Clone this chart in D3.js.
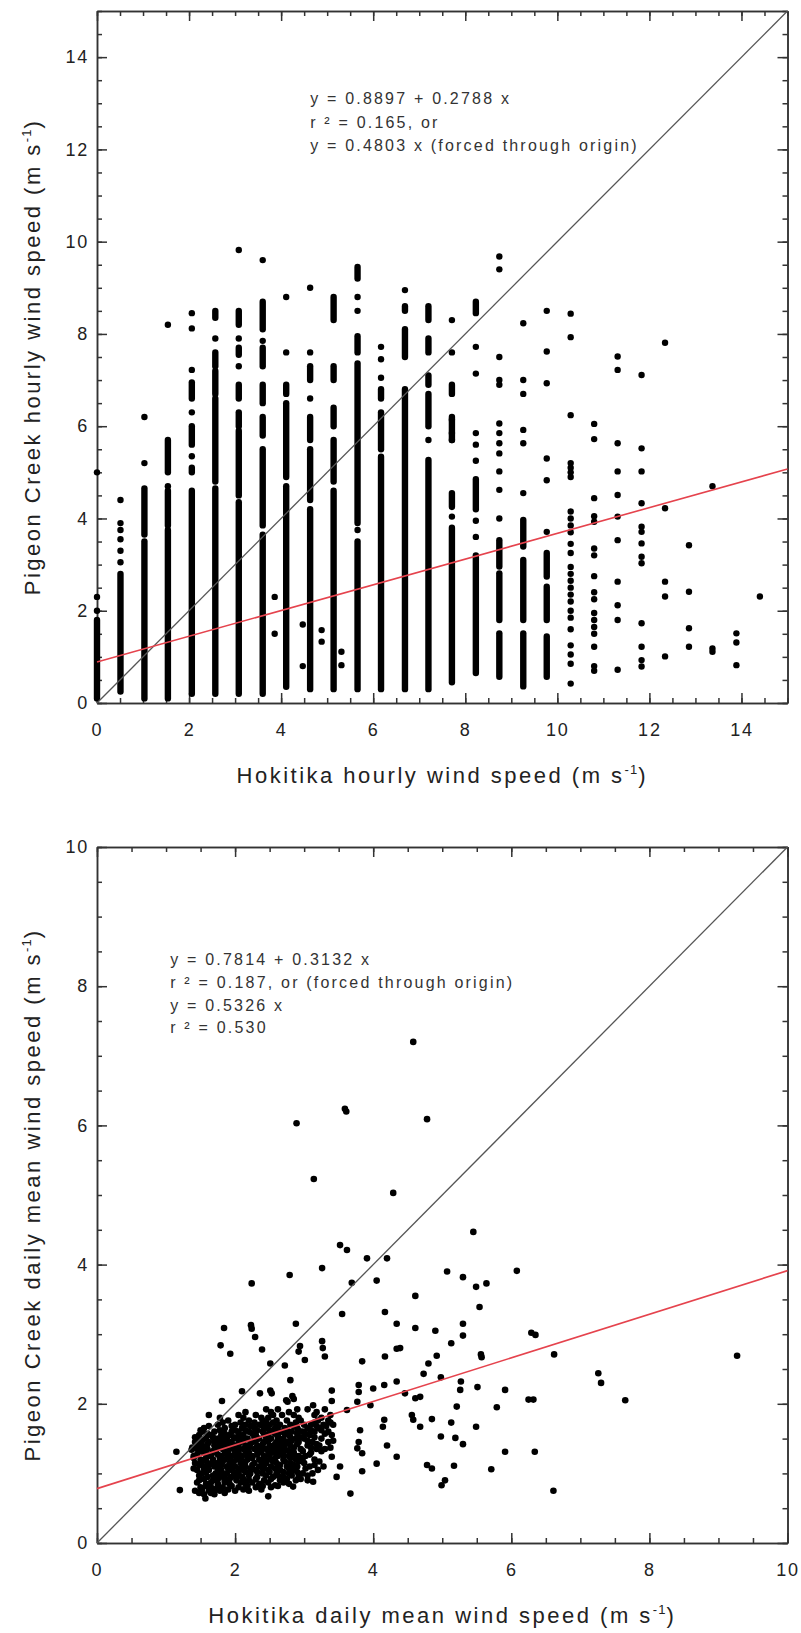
<!DOCTYPE html>
<html lang="en">
<head>
<meta charset="UTF-8">
<title>Pigeon Creek vs Hokitika wind speed</title>
<script src="https://cdnjs.cloudflare.com/ajax/libs/d3/7.8.5/d3.min.js"></script>
<style>
  body { margin: 0; background: #fff; }
  svg { display: block; font-family: "Liberation Sans", Arial, sans-serif; }
  .tick text { font-size: 18px; letter-spacing: 1.8px; fill: #222; }
  .tick line, .domain { stroke: #333; stroke-width: 1.5; }
  .title { font-size: 22px; letter-spacing: 2.5px; fill: #222; }
  .note { font-size: 16px; letter-spacing: 2.2px; fill: #333; }
</style>
</head>
<body>
<div id="chart"></div>
<script>
// ---- hourly data (top panel) ----
// Hokitika values come in knot steps, so the points sit in columns
const hourlyCols = [0, 0.51, 1.03, 1.54, 2.06, 2.57, 3.08, 3.60, 4.11, 4.63, 5.14, 5.66, 6.17, 6.69,
  7.20, 7.71, 8.23, 8.74, 9.26, 9.77, 10.29, 10.80, 11.31, 11.83, 12.34, 12.86, 13.37, 13.89, 14.40];

// solid runs of overlapping dots in each column [lo, hi]
const hourlyRuns = [
  [[0.1, 1.8]],
  [[0.25, 2.8]],
  [[0.1, 3.5], [3.65, 4.65]],
  [[5.0, 5.7], [0.1, 3.75], [3.85, 4.6]],
  [[6.6, 6.95], [5.6, 6.0], [5.0, 5.1], [0.2, 4.6]],
  [[8.35, 8.5], [7.3, 7.6], [6.7, 7.2], [4.8, 6.6], [0.2, 4.65]],
  [[8.2, 8.5], [7.55, 7.7], [6.6, 6.9], [6.0, 6.3], [4.5, 5.9], [0.2, 4.35]],
  [[8.1, 8.7], [7.3, 7.7], [6.5, 6.9], [5.8, 6.2], [3.85, 5.5], [0.2, 3.65]],
  [[6.7, 6.9], [4.9, 6.5], [0.35, 4.7]],
  [[7.0, 7.3], [5.7, 6.2], [4.4, 5.5], [0.3, 4.2]],
  [[8.3, 8.8], [7.0, 7.3], [6.0, 6.4], [4.8, 5.7], [0.3, 4.6]],
  [[9.2, 9.45], [7.6, 7.95], [3.9, 7.36], [0.3, 3.5]],
  [[6.6, 6.8], [5.5, 6.3], [0.3, 5.34]],
  [[8.5, 8.6], [7.5, 8.1], [0.3, 6.8]],
  [[8.3, 8.6], [7.6, 7.9], [6.9, 7.1], [6.0, 6.7], [0.3, 5.27]],
  [[6.7, 6.9], [5.7, 6.2], [4.25, 4.55], [0.45, 3.8]],
  [[8.45, 8.7], [4.2, 4.85], [0.65, 3.2]],
  [[2.96, 3.53], [1.8, 2.81], [0.57, 1.51]],
  [[3.39, 3.97], [1.8, 3.1], [0.36, 1.51]],
  [[2.74, 3.25], [1.8, 2.52], [0.57, 1.44]],
  [], [], [], [], [], [], [], [], []
];

// separate dots in each column
const hourlyDots = [
  [5.0, 2.3, 2.0],
  [4.4, 3.9, 3.75, 3.55, 3.3, 3.05],
  [6.2, 5.2],
  [8.2, 4.7],
  [8.45, 8.12, 7.22, 6.3, 5.35],
  [7.9],
  [9.82, 7.9, 7.3],
  [9.6, 7.85],
  [8.8, 7.6],
  [9.0, 7.6, 6.6],
  [],
  [8.8, 8.5, 3.75],
  [7.72, 7.45, 7.05],
  [8.95],
  [5.7],
  [8.3, 7.6, 6.14, 5.85, 5.7, 4.04],
  [7.72, 7.14, 5.85, 5.6, 5.25, 3.95, 3.6],
  [9.68, 9.4, 7.5, 7.0, 6.9, 6.06, 5.85, 5.63, 5.41, 5.02, 4.62, 4.0],
  [8.23, 7.0, 6.7, 5.92, 5.63, 4.55],
  [8.5, 7.62, 6.93, 5.3, 4.83, 3.71],
  [8.44, 7.93, 6.24, 5.2, 5.1, 5.0, 4.9, 4.15, 4.0, 3.85, 3.7, 3.45, 3.25, 2.95, 2.8, 2.65, 2.5,
   2.35, 2.2, 2.0, 1.85, 1.6, 1.25, 1.05, 0.85, 0.42],
  [6.05, 5.72, 4.44, 4.05, 3.93, 3.35, 3.2, 2.75, 2.4, 2.25, 1.95, 1.8, 1.65, 1.5, 1.22, 0.8, 0.7],
  [7.51, 7.22, 5.63, 5.02, 4.51, 4.04, 3.53, 2.63, 2.12, 1.8, 0.72],
  [7.11, 5.52, 5.02, 4.33, 3.82, 3.71, 3.46, 3.17, 3.03, 1.73, 1.22, 0.93, 0.79],
  [7.81, 4.22, 2.63, 2.31, 1.01],
  [3.42, 2.41, 1.62, 1.22],
  [4.7, 1.18, 1.11],
  [1.51, 1.31, 0.82],
  [2.31]
];

// a few hours off the knot grid
const strayX = [3.86, 3.86, 4.47, 4.47, 4.88, 4.88, 5.31, 5.31];
const strayY = [2.3, 1.5, 1.7, 0.8, 1.58, 1.33, 1.11, 0.82];

const hourlyFit = { a: 0.8897, b: 0.2788 };
const hourlyNote = ["y = 0.8897 + 0.2788 x", "r \u00b2 = 0.165, or", "y = 0.4803 x (forced through origin)"];

// ---- daily data (bottom panel) ----
const dailyOutliers = [
  [4.58,7.2],[3.59,6.24],[3.61,6.2],[4.78,6.09],[2.89,6.03],[3.14,5.23],[4.29,5.03],[5.45,4.47],
  [3.52,4.28],[3.62,4.21],[3.91,4.09],[4.20,4.09],[3.26,3.95],[2.79,3.85],[5.07,3.90],[6.08,3.91],
  [5.30,3.82],[2.24,3.73],[3.69,3.74],[4.05,3.77],[5.49,3.68],[5.64,3.73],[4.61,3.55],[5.54,3.39],
  [3.55,3.29],[4.17,3.32],[4.34,3.15],[2.88,3.15],[1.84,3.09],[2.23,3.13],[2.24,3.08],[2.29,2.96],
  [1.79,2.84],[1.93,2.72],[2.39,2.78],[2.94,2.83],[2.92,2.75],[3.26,2.90],[3.27,2.80],[3.30,2.68],
  [3.01,2.63],[4.17,2.68],[3.84,2.61],[4.34,2.79],[2.51,2.58],[2.72,2.55],[2.80,2.34],[4.61,3.09],
  [4.90,3.05],[5.30,3.15],[5.30,2.98],[5.13,2.87],[6.29,3.02],[6.35,2.99],[4.39,2.80],[4.92,2.69],
  [4.80,2.58],[5.56,2.71],[5.57,2.67],[6.62,2.71],[9.27,2.69],[4.73,2.43],[4.98,2.38],[5.27,2.32],
  [5.26,2.20],[5.51,2.24],[5.91,2.20],[7.26,2.44],[7.30,2.30],[7.65,2.05],[6.25,2.06],[6.32,2.06],
  [4.46,2.15],[4.61,2.08],[4.68,2.10],[5.21,1.96],[5.79,1.95],[4.56,1.84],[4.58,1.77],[4.68,1.67],
  [4.85,1.78],[5.13,1.73],[5.49,1.67],[4.98,1.53],[5.19,1.51],[5.30,1.42],[5.91,1.31],[6.34,1.31],
  [4.78,1.12],[4.85,1.07],[5.17,1.11],[5.71,1.06],[4.99,0.83],[5.04,0.90],[6.61,0.75],
  [1.81,2.04],[2.10,2.18],[2.36,2.15],[2.51,2.19],[2.53,2.15],[2.74,2.05],[2.76,2.03],[2.83,2.11],
  [2.85,2.07],[3.40,2.19],[3.40,2.04],[3.13,1.98],[3.79,2.27],[3.79,2.17],[4.00,2.22],[3.77,2.03],
  [3.96,1.98],[4.16,2.27],[4.34,2.32],[3.62,1.91],[3.81,1.62],[3.79,1.45],[3.77,1.36],[3.84,1.29],
  [3.84,1.03],[4.05,1.14],[4.20,1.40],[4.16,1.77],[4.14,1.67],[4.34,1.24],[3.40,1.24],[3.52,1.10],
  [3.47,0.95],[3.67,0.71],[2.48,0.67],[2.58,0.83],[2.84,0.81],[3.13,0.88],[1.20,0.76],[1.15,1.31],
  [1.57,0.64],[1.52,1.60],[1.37,1.34],[1.49,1.49]
];

// the dense cloud, read band by band: [y, x, x, x ...]
const dailyCloud = [
  [1.92, 2.45, 2.62, 2.90, 3.05, 3.30],
  [1.88, 2.15, 2.52, 2.78, 3.18],
  [1.84, 1.62, 2.05, 2.30, 2.55, 2.68, 2.85, 3.15, 3.38],
  [1.80, 1.78, 2.12, 2.38, 2.48, 2.92, 3.25],
  [1.76, 1.90, 2.20, 2.40, 2.60, 2.75, 2.95, 3.20, 3.35],
  [1.73, 1.82, 2.08, 2.28, 2.45, 2.55, 2.88, 3.15, 3.38],
  [1.70, 1.75, 2.00, 2.15, 2.35, 2.50, 2.65, 2.80, 3.00, 3.10, 3.28, 3.42],
  [1.68, 1.62, 1.95, 2.22, 2.40, 2.62, 2.85, 3.18, 3.32],
  [1.65, 1.55, 1.85, 2.10, 2.28, 2.45, 2.58, 2.72, 2.90, 3.05, 3.22],
  [1.62, 1.50, 1.78, 2.00, 2.15, 2.32, 2.50, 2.62, 2.75, 2.92, 3.10, 3.25],
  [1.60, 1.70, 1.95, 2.05, 2.20, 2.40, 2.55, 2.68, 2.82, 2.98, 3.15, 3.35],
  [1.57, 1.60, 1.85, 2.05, 2.25, 2.42, 2.58, 2.72, 2.90, 3.02, 3.30],
  [1.55, 1.48, 1.65, 1.80, 1.92, 2.12, 2.30, 2.48, 2.62, 2.78, 3.08, 3.40],
  [1.52, 1.42, 1.68, 1.82, 1.98, 2.10, 2.28, 2.45, 2.62, 2.80, 2.95, 3.15],
  [1.50, 1.58, 1.75, 1.88, 2.02, 2.18, 2.35, 2.52, 2.70, 2.88, 3.00, 3.25],
  [1.47, 1.52, 1.70, 1.85, 2.12, 2.30, 2.48, 2.65, 2.82, 3.05, 3.42],
  [1.45, 1.42, 1.62, 1.78, 1.95, 2.08, 2.25, 2.42, 2.60, 2.76, 2.92, 3.12, 3.35],
  [1.42, 1.45, 1.60, 1.78, 1.92, 2.05, 2.22, 2.40, 2.58, 2.72, 2.90, 3.18],
  [1.40, 1.52, 1.70, 1.85, 2.00, 2.15, 2.32, 2.50, 2.65, 2.80, 3.05, 3.22],
  [1.37, 1.38, 1.55, 1.75, 1.92, 2.05, 2.20, 2.38, 2.55, 2.68, 2.85, 3.10, 3.38],
  [1.35, 1.45, 1.60, 1.82, 1.98, 2.12, 2.28, 2.45, 2.58, 2.72, 2.95, 3.18, 3.30],
  [1.32, 1.50, 1.68, 1.85, 2.00, 2.15, 2.32, 2.48, 2.62, 2.78, 2.98, 3.25],
  [1.30, 1.55, 1.72, 1.90, 2.05, 2.20, 2.38, 2.55, 2.68, 2.85, 3.10],
  [1.27, 1.45, 1.60, 1.75, 1.88, 2.02, 2.18, 2.32, 2.50, 2.70, 2.85, 3.08],
  [1.25, 1.40, 1.65, 1.80, 1.95, 2.10, 2.25, 2.42, 2.62, 2.78, 2.92, 3.02],
  [1.22, 1.40, 1.58, 1.78, 1.92, 2.08, 2.25, 2.42, 2.58, 2.80, 2.98],
  [1.20, 1.50, 1.68, 1.85, 2.02, 2.18, 2.35, 2.50, 2.70, 2.88, 3.15],
  [1.17, 1.52, 1.68, 1.82, 1.98, 2.15, 2.38, 2.55, 2.72, 2.92, 3.22],
  [1.15, 1.42, 1.60, 1.75, 1.92, 2.08, 2.28, 2.45, 2.60, 2.80, 3.00],
  [1.12, 1.48, 1.62, 1.80, 1.95, 2.10, 2.25, 2.42, 2.65, 2.85, 3.15],
  [1.10, 1.55, 1.70, 1.88, 2.00, 2.15, 2.35, 2.52, 2.75, 2.90, 3.08, 3.28],
  [1.07, 1.40, 1.55, 1.75, 1.90, 2.05, 2.22, 2.40, 2.58, 2.78, 3.02],
  [1.05, 1.45, 1.62, 1.80, 1.95, 2.12, 2.30, 2.48, 2.65, 2.85, 3.20],
  [1.02, 1.58, 1.80, 1.98, 2.15, 2.32, 2.50, 2.70, 2.90],
  [1.00, 1.52, 1.72, 1.88, 2.05, 2.22, 2.40, 2.60, 2.78, 2.98, 3.12],
  [0.97, 1.48, 1.68, 1.85, 2.02, 2.20, 2.45, 2.62, 2.82, 3.05],
  [0.95, 1.60, 1.78, 1.95, 2.10, 2.32, 2.55, 2.70, 2.92],
  [0.92, 1.55, 1.75, 1.92, 2.12, 2.30, 2.52, 2.75, 2.95],
  [0.90, 1.48, 1.68, 1.85, 2.02, 2.20, 2.42, 2.65, 2.88, 3.05],
  [0.87, 1.45, 1.65, 1.85, 2.08, 2.25, 2.48, 2.70],
  [0.85, 1.58, 1.75, 1.92, 2.15, 2.35, 2.78],
  [0.82, 1.58, 1.75, 1.95, 2.18, 2.40, 2.62],
  [0.80, 1.50, 1.65, 1.82, 2.05, 2.30, 2.52],
  [0.77, 1.52, 1.70, 1.90, 2.12, 2.38],
  [0.75, 1.42, 1.62, 1.78, 2.00, 2.20],
  [0.72, 1.48, 1.65, 1.85],
  [0.70, 1.55, 1.70]
];

const dailyFit = { a: 0.7814, b: 0.3132 };
const dailyNote = ["y = 0.7814 + 0.3132 x", "r \u00b2 = 0.187, or (forced through origin)", "y = 0.5326 x", "r \u00b2 = 0.530"];

const W = 801, H = 1633;
const svg = d3.select("#chart").append("svg").attr("width", W).attr("height", H);

function panel(opt) {
    const x = d3.scaleLinear().domain([0, opt.max]).range([97, 787.5]);
    const y = d3.scaleLinear().domain([0, opt.max]).range([opt.bottom, opt.top]);
    const g = svg.append("g");
    const major = d3.range(0, opt.max + 0.01, 2);
    const minor = d3.range(0, opt.max + 0.01, 0.5);

    // minor ticks on all sides
    g.append("g").attr("transform", `translate(0,${opt.bottom})`)
        .call(d3.axisBottom(x).tickValues(minor).tickSize(-5).tickSizeOuter(0).tickFormat(""));
    g.append("g").attr("transform", `translate(0,${opt.top})`)
        .call(d3.axisTop(x).tickValues(minor).tickSize(-5).tickSizeOuter(0).tickFormat(""));
    g.append("g").attr("transform", "translate(97,0)")
        .call(d3.axisLeft(y).tickValues(minor).tickSize(-5).tickSizeOuter(0).tickFormat(""));
    g.append("g").attr("transform", "translate(787.5,0)")
        .call(d3.axisRight(y).tickValues(minor).tickSize(-5).tickSizeOuter(0).tickFormat(""));

    // major ticks, labels on bottom and left only
    g.append("g").attr("transform", `translate(0,${opt.bottom})`)
        .call(d3.axisBottom(x).tickValues(major).tickSize(-10).tickSizeOuter(0).tickPadding(20));
    g.append("g").attr("transform", `translate(0,${opt.top})`)
        .call(d3.axisTop(x).tickValues(major).tickSize(-10).tickSizeOuter(0).tickFormat(""));
    g.append("g").attr("transform", "translate(97,0)")
        .call(d3.axisLeft(y).tickValues(major).tickSize(-10).tickSizeOuter(0).tickPadding(8));
    g.append("g").attr("transform", "translate(787.5,0)")
        .call(d3.axisRight(y).tickValues(major).tickSize(-10).tickSizeOuter(0).tickFormat(""));

    // axis titles with superscript -1
    const xt = g.append("text").attr("class", "title")
        .attr("x", (x.range()[0] + x.range()[1]) / 2).attr("y", opt.bottom + 80)
        .attr("text-anchor", "middle");
    xt.append("tspan").text(opt.xTitle + " (m s");
    xt.append("tspan").attr("dy", -9).attr("font-size", 13).attr("letter-spacing", "1px").text("-1");
    xt.append("tspan").attr("dy", 9).text(")");

    const cy = (opt.top + opt.bottom) / 2;
    const yt = g.append("text").attr("class", "title")
        .attr("transform", `translate(40,${cy}) rotate(-90)`)
        .attr("text-anchor", "middle");
    yt.append("tspan").text(opt.yTitle + " (m s");
    yt.append("tspan").attr("dy", -9).attr("font-size", 13).attr("letter-spacing", "1px").text("-1");
    yt.append("tspan").attr("dy", 9).text(")");

    return { g, x, y };
}

// ---------- top panel ----------
const hp = panel({ max: 15, top: 11, bottom: 703,
    xTitle: "Hokitika hourly wind speed", yTitle: "Pigeon Creek hourly wind speed" });

const runData = [];
hourlyCols.forEach((c, i) => hourlyRuns[i].forEach(r => runData.push({ x: c, lo: r[0], hi: r[1] })));
const dotData = [];
hourlyCols.forEach((c, i) => hourlyDots[i].forEach(v => dotData.push({ x: c, y: v })));
strayX.forEach((v, i) => dotData.push({ x: v, y: strayY[i] }));

hp.g.append("g").selectAll("line")
    .data(runData)
    .join("line")
    .attr("x1", d => hp.x(d.x)).attr("x2", d => hp.x(d.x))
    .attr("y1", d => hp.y(d.lo)).attr("y2", d => hp.y(d.hi))
    .attr("stroke", "#000").attr("stroke-width", 6.4).attr("stroke-linecap", "round");

hp.g.append("g").selectAll("circle")
    .data(dotData)
    .join("circle")
    .attr("cx", d => hp.x(d.x)).attr("cy", d => hp.y(d.y))
    .attr("r", 3.2).attr("fill", "#000");

hp.g.append("line")
    .attr("x1", hp.x(0)).attr("y1", hp.y(0)).attr("x2", hp.x(15)).attr("y2", hp.y(15))
    .attr("stroke", "#555").attr("stroke-width", 1.3);
hp.g.append("line")
    .attr("x1", hp.x(0)).attr("y1", hp.y(hourlyFit.a))
    .attr("x2", hp.x(15)).attr("y2", hp.y(hourlyFit.a + hourlyFit.b * 15))
    .attr("stroke", "#e5434d").attr("stroke-width", 1.6);

hp.g.append("g").selectAll("text")
    .data(hourlyNote)
    .join("text")
    .attr("class", "note")
    .attr("x", hp.x(4.63))
    .attr("y", (d, i) => hp.y(12.98) + i * 23.5)
    .text(d => d);

// ---------- bottom panel ----------
const dp = panel({ max: 10, top: 847, bottom: 1543,
    xTitle: "Hokitika daily mean wind speed", yTitle: "Pigeon Creek daily mean wind speed" });

const dailyPts = dailyOutliers.map(p => ({ x: p[0], y: p[1] }));
dailyCloud.forEach(row => row.slice(1).forEach(v => dailyPts.push({ x: v, y: row[0] })));

dp.g.append("g").selectAll("circle")
    .data(dailyPts)
    .join("circle")
    .attr("cx", d => dp.x(d.x)).attr("cy", d => dp.y(d.y))
    .attr("r", 3.3).attr("fill", "#000");

dp.g.append("line")
    .attr("x1", dp.x(0)).attr("y1", dp.y(0)).attr("x2", dp.x(10)).attr("y2", dp.y(10))
    .attr("stroke", "#555").attr("stroke-width", 1.3);
dp.g.append("line")
    .attr("x1", dp.x(0)).attr("y1", dp.y(dailyFit.a))
    .attr("x2", dp.x(10)).attr("y2", dp.y(dailyFit.a + dailyFit.b * 10))
    .attr("stroke", "#e5434d").attr("stroke-width", 1.6);

dp.g.append("g").selectAll("text")
    .data(dailyNote)
    .join("text")
    .attr("class", "note")
    .attr("x", dp.x(1.06))
    .attr("y", (d, i) => dp.y(8.30) + i * 22.7)
    .text(d => d);
</script>
</body>
</html>
